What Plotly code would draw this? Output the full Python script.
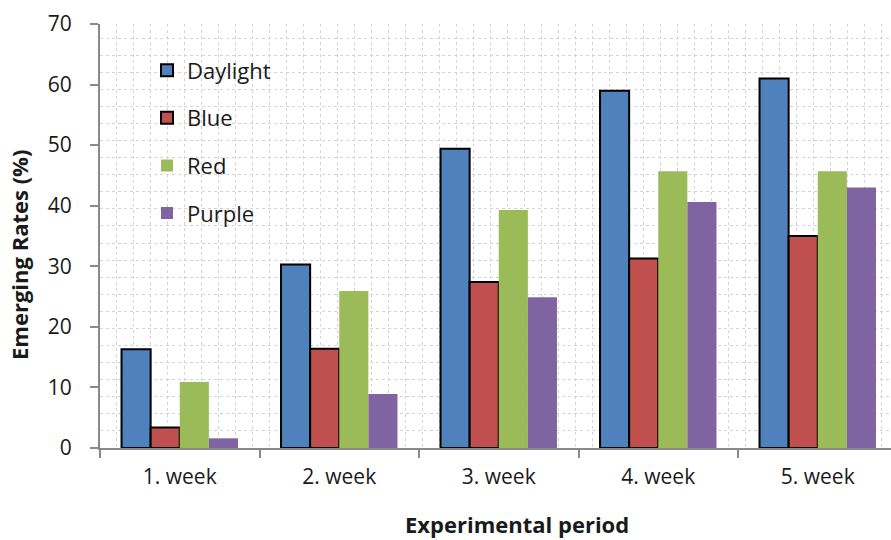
import plotly.graph_objects as go

# Emerging rates per light treatment over the experimental weeks
weeks = ["1. week", "2. week", "3. week", "4. week", "5. week"]
daylight = [16.3, 30.3, 49.4, 59.0, 61.0]
blue = [3.4, 16.4, 27.4, 31.3, 35.0]
red = [10.9, 25.9, 39.3, 45.7, 45.7]
purple = [1.6, 8.9, 24.9, 40.6, 43.0]

series = [
    ("Daylight", daylight, "#4F81BD", 2),
    ("Blue", blue, "#C0504D", 2),
    ("Red", red, "#9BBB59", 0),
    ("Purple", purple, "#8064A2", 0),
]

FONT = "Open Sans"
TXT = "#1a1a1a"
AXC = "#898989"
GRID = "#d4d4d4"

W, H = 891, 540
ML, MR, MT, MB = 100, 0, 24, 92
plot_w = W - ML - MR
plot_h = H - MT - MB
cat_px = 159.5  # pixel width of one week category

fig = go.Figure()
for name, vals, color, lw in series:
    fig.add_trace(go.Bar(
        x=weeks, y=vals, name=name, legendgroup=name,
        marker=dict(color=color, line=dict(color="#000000", width=lw)),
    ))

# empty trace that carries the overlay axis used for the vertical dashed grid
fig.add_trace(go.Scatter(x=[], y=[], xaxis="x2", showlegend=False, hoverinfo="skip"))

fig.update_layout(
    width=W, height=H,
    margin=dict(l=ML, r=MR, t=MT, b=MB),
    paper_bgcolor="white", plot_bgcolor="white",
    font=dict(family=FONT, size=21, color=TXT),
    barmode="group", bargap=0.27, bargroupgap=0,
    showlegend=True,
    legend=dict(
        x=(147 - ML) / plot_w, y=0.94, xanchor="left", yanchor="top",
        bgcolor="rgba(0,0,0,0)", font=dict(size=22, family=FONT, color=TXT),
        tracegroupgap=16, itemwidth=30,
    ),
    xaxis=dict(
        range=[-0.5, -0.5 + plot_w / cat_px],
        showgrid=False, zeroline=False,
        showline=True, linecolor=AXC, linewidth=2,
        ticks="outside", tickson="boundaries", ticklen=8, tickwidth=2, tickcolor=AXC,
        ticklabelstandoff=9,
        tickfont=dict(size=21, family=FONT, color=TXT),
    ),
    xaxis2=dict(
        overlaying="x", anchor="y", side="bottom",
        range=[0, plot_w], tick0=16.7, dtick=17,
        showgrid=True, gridcolor=GRID, gridwidth=1, griddash="3px,3px",
        showticklabels=False, ticks="", zeroline=False, showline=False,
    ),
    yaxis=dict(
        range=[0, 70], tick0=0, dtick=10,
        showgrid=False, zeroline=False,
        showline=True, linecolor=AXC, linewidth=2,
        ticks="outside", ticklen=8, tickwidth=2, tickcolor=AXC,
        ticklabelstandoff=14,
        tickfont=dict(size=21, family=FONT, color=TXT),
        minor=dict(dtick=2.82, tick0=0, showgrid=True, gridcolor=GRID,
                   gridwidth=1, griddash="3px,3px", ticks=""),
    ),
    annotations=[
        dict(text="<b>Emerging Rates (%)</b>", textangle=-90,
             xref="paper", yref="paper",
             x=(19 - ML) / plot_w, y=(H - MB - 255) / plot_h,
             xanchor="center", yanchor="middle", showarrow=False,
             font=dict(size=22, family=FONT, color=TXT)),
        dict(text="<b>Experimental period</b>",
             xref="paper", yref="paper",
             x=(517 - ML) / plot_w, y=-(524 - (H - MB)) / plot_h,
             xanchor="center", yanchor="middle", showarrow=False,
             font=dict(size=22, family=FONT, color=TXT)),
    ],
)

fig.write_html("out.html")
